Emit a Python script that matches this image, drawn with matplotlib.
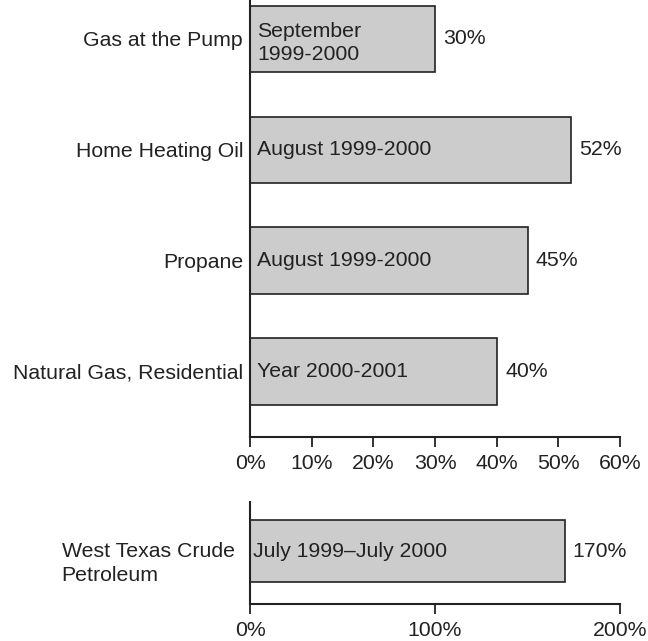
import numpy as np
import matplotlib
matplotlib.use('Agg')
import matplotlib.pyplot as plt


categories = ['Gas at the Pump', 'Home Heating Oil', 'Propane', 'Natural Gas, Residential']
increase = [30, 52, 45, 40]
periods = ['September\n1999-2000', 'August 1999-2000', 'August 1999-2000', 'Year 2000-2001']
top_ticks = [0, 10, 20, 30, 40, 50, 60]

crude_label = ['West Texas Crude\nPetroleum']
crude_increase = [170]
crude_period = ['July 1999\u2013July 2000']
bottom_ticks = [0, 100, 200]

plt.rcParams['font.family'] = ['Liberation Sans', 'DejaVu Sans']
plt.rcParams['font.size'] = 15.3
plt.rcParams['text.color'] = '#222222'
plt.rcParams['xtick.color'] = '#222222'
plt.rcParams['xtick.labelcolor'] = '#222222'
plt.rcParams['ytick.labelcolor'] = '#222222'

bar_face = '#cccccc'
edge = '#222222'

fig = plt.figure(figsize=(6.48, 6.41), dpi=100)

ax1 = fig.add_axes([250/648, 1 - 437/641, 370/648, 437/641])
ax2 = fig.add_axes([250/648, 1 - 604/641, 370/648, 102/641])


def style_axis(ax, ticks):
    for s in ['top', 'right']:
        ax.spines[s].set_visible(False)
    for s in ['left', 'bottom']:
        ax.spines[s].set_linewidth(1.5)
        ax.spines[s].set_color(edge)
    ax.set_xticks(ticks)
    ax.set_xticklabels(['%d%%' % t for t in ticks])
    ax.tick_params(axis='x', direction='out', length=7, width=1.3, pad=5)
    ax.tick_params(axis='y', length=0, pad=5)


# upper chart
y = np.arange(len(categories))
ax1.barh(y, increase, height=0.6, color=bar_face, edgecolor=edge, linewidth=1.2)
ax1.set_xlim(0, 60)
ax1.set_ylim(3.593, -0.352)
ax1.set_yticks(y)
ax1.set_yticklabels(categories)
style_axis(ax1, top_ticks)

for i in range(len(categories)):
    dy = -3 if '\n' in periods[i] else 0
    ax1.annotate(periods[i], xy=(0, y[i]), xytext=(5, dy), textcoords='offset points',
                 ha='left', va='center', linespacing=1.3)
    ax1.annotate('%d%%' % increase[i], xy=(increase[i], y[i]), xytext=(6, 0),
                 textcoords='offset points', ha='left', va='center')

# lower chart
y2 = np.arange(len(crude_label))
ax2.barh(y2, crude_increase, height=0.6, color=bar_face, edgecolor=edge, linewidth=1.2)
ax2.set_xlim(0, 200)
ax2.set_ylim(0.517, -0.478)
ax2.set_yticks(y2)
ax2.set_yticklabels([])
style_axis(ax2, bottom_ticks)

for i in range(len(crude_label)):
    ax2.annotate(crude_label[i], xy=(0, y2[i]), xytext=(-11, -9), textcoords='offset points',
                 ha='right', va='center', multialignment='left', linespacing=1.3)
    ax2.annotate(crude_period[i], xy=(0, y2[i]), xytext=(2, 0), textcoords='offset points',
                 ha='left', va='center')
    ax2.annotate('%d%%' % crude_increase[i], xy=(crude_increase[i], y2[i]), xytext=(6, 0),
                 textcoords='offset points', ha='left', va='center')

plt.savefig('out.png', dpi=100)
